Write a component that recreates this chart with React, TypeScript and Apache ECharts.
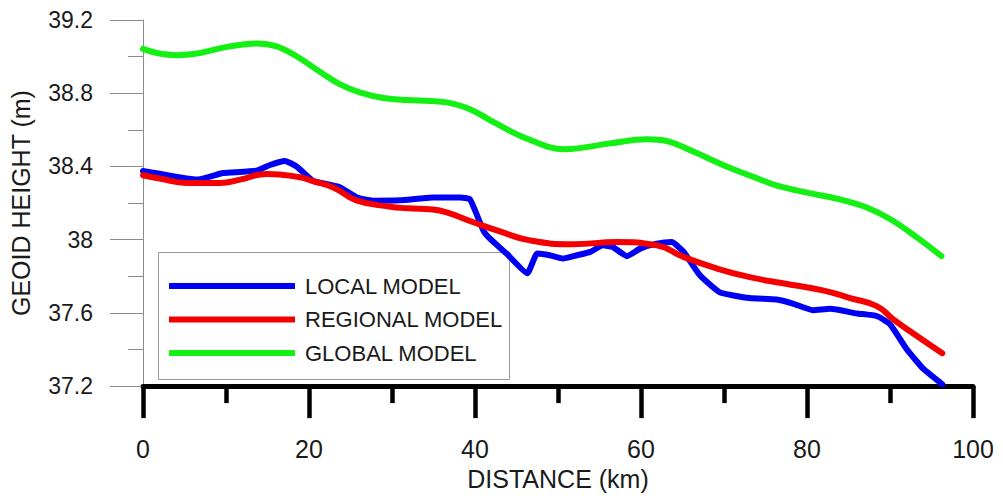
import React, { useEffect, useRef } from "react";
import * as echarts from "echarts";

// Distance along the profile (km) and geoid height (m) for each model
const localModel: [number, number][] = [
  [0, 38.375], [2, 38.36], [4.5, 38.34], [6.5, 38.328], [8.5, 38.35], [9.6, 38.364],
  [13.7, 38.377], [15.3, 38.408], [17.1, 38.43], [18.5, 38.4], [20.5, 38.321],
  [22.5, 38.3], [23.7, 38.287], [25.8, 38.23], [27.7, 38.213], [31.0, 38.215],
  [34.9, 38.23], [38.2, 38.23], [39.4, 38.22], [41.0, 38.05], [41.8, 38.005],
  [43.8, 37.924], [46.3, 37.816], [47.5, 37.924], [49.0, 37.915], [50.6, 37.897],
  [52.3, 37.915], [53.9, 37.933], [55.4, 37.969], [56.6, 37.96], [58.3, 37.91],
  [59.9, 37.951], [61.9, 37.978], [63.7, 37.987], [65.1, 37.935], [67.1, 37.805],
  [69.5, 37.712], [73.1, 37.681], [76.3, 37.673], [78.3, 37.651], [80.7, 37.615],
  [82.8, 37.622], [86.0, 37.597], [88.4, 37.583], [90.0, 37.538], [92.0, 37.403],
  [94.0, 37.295], [96.3, 37.21],
];

const regionalModel: [number, number][] = [
  [0, 38.352], [2, 38.334], [5.3, 38.31], [9.3, 38.31], [11.7, 38.328], [14.9, 38.359],
  [18.9, 38.341], [20.5, 38.32], [23.0, 38.284], [25.7, 38.215], [29.8, 38.18],
  [31.8, 38.172], [34.9, 38.165], [36.6, 38.149], [39.8, 38.095], [43.0, 38.045],
  [46.6, 37.996], [51.8, 37.975], [57.1, 37.987], [61.9, 37.969], [65.1, 37.906],
  [69.1, 37.843], [73.1, 37.795], [77.1, 37.762], [81.9, 37.723], [85.2, 37.681],
  [88.4, 37.637], [90.4, 37.565], [93.2, 37.475], [96.3, 37.38],
];

const globalModel: [number, number][] = [
  [0, 39.042], [1.65, 39.02], [4.06, 39.008], [6.87, 39.02], [10.1, 39.053],
  [13.7, 39.072], [16.1, 39.056], [18.5, 39.002], [20.9, 38.93],
  [23.7, 38.85], [26.1, 38.805], [29.0, 38.774], [31.8, 38.763], [34.6, 38.758],
  [36.6, 38.75], [39.4, 38.713], [42.2, 38.643], [46.2, 38.553], [50.8, 38.494],
  [56.3, 38.526], [60.7, 38.549], [63.1, 38.539], [66.3, 38.481],
  [70.3, 38.4], [73.9, 38.337], [76.4, 38.295], [80.0, 38.257], [84.0, 38.22],
  [87.2, 38.176], [90.0, 38.113], [93.2, 38.014], [96.2, 37.91],
];

const seriesNames = ["LOCAL MODEL", "REGIONAL MODEL", "GLOBAL MODEL"];
const seriesColors = ["#0000f5", "#f50000", "#14f014"];

const FONT = "'Liberation Sans', Arial, sans-serif";

export default function App() {
  const ref = useRef<HTMLDivElement>(null);

  useEffect(() => {
    if (!ref.current) return;
    const chart = echarts.init(ref.current, undefined, { renderer: "svg" });
    const datasets = [localModel, regionalModel, globalModel];
    const smoothing = [0.15, 0.5, 0.4];

    chart.setOption({
      animation: false,
      backgroundColor: "#ffffff",
      textStyle: { fontFamily: FONT },
      grid: { left: 143, top: 20, right: 30, bottom: 105 },
      xAxis: {
        type: "value",
        min: 0,
        max: 100,
        interval: 20,
        name: "DISTANCE (km)",
        nameLocation: "middle",
        nameGap: 79,
        nameTextStyle: { fontSize: 25, color: "#1a1a1a", fontFamily: FONT },
        axisLine: { show: true, onZero: false, lineStyle: { color: "#000", width: 5 } },
        axisTick: { show: true, length: 32, lineStyle: { color: "#000", width: 4.5 } },
        minorTick: { show: true, splitNumber: 2, length: 17, lineStyle: { color: "#000", width: 4.5 } },
        axisLabel: { margin: 50, fontSize: 25, color: "#1a1a1a", fontFamily: FONT },
        splitLine: { show: false },
      },
      yAxis: {
        type: "value",
        min: 37.2,
        max: 39.2,
        interval: 0.4,
        name: "GEOID HEIGHT (m)",
        nameLocation: "middle",
        nameRotate: 90,
        nameGap: 110,
        nameTextStyle: { fontSize: 25, color: "#1a1a1a", fontFamily: FONT },
        axisLine: { show: true, onZero: false, lineStyle: { color: "#8c8c8c", width: 1 } },
        axisTick: { show: true, length: 33, lineStyle: { color: "#8c8c8c", width: 1 } },
        minorTick: { show: true, splitNumber: 2, length: 15, lineStyle: { color: "#8c8c8c", width: 1 } },
        axisLabel: {
          margin: 50,
          fontSize: 23,
          color: "#1a1a1a",
          fontFamily: FONT,
          formatter: (v: number) => String(+v.toFixed(1)),
        },
        splitLine: { show: false },
      },
      legend: {
        orient: "vertical",
        left: 169,
        top: 274,
        padding: 0,
        itemGap: 9.5,
        itemWidth: 126,
        itemHeight: 6,
        icon: "rect",
        selectedMode: false,
        data: seriesNames,
        textStyle: { fontSize: 22, lineHeight: 24, color: "#1a1a1a", fontFamily: FONT, padding: [0, 0, 0, 5] },
      },
      graphic: [
        {
          type: "rect",
          z: 0,
          shape: { x: 158.5, y: 252.5, width: 351, height: 127 },
          style: { fill: "none", stroke: "#999", lineWidth: 1 },
        },
      ],
      series: datasets.map((d, i) => ({
        name: seriesNames[i],
        type: "line",
        data: d,
        smooth: smoothing[i],
        symbol: "none",
        z: 3,
        itemStyle: { color: seriesColors[i] },
        lineStyle: { color: seriesColors[i], width: 6, cap: "round", join: "round" },
      })),
    });

    return () => chart.dispose();
  }, []);

  return (
    <div
      ref={ref}
      style={{ position: "absolute", left: 0, top: 0, width: 1003, height: 496 }}
    />
  );
}
